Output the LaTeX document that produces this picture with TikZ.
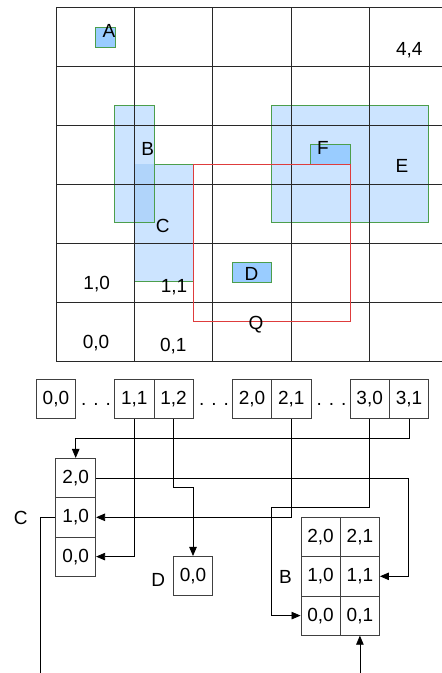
\documentclass[tikz,border=0pt]{standalone}
\usepackage{fontspec}
\setmainfont{Liberation Sans}
\usetikzlibrary{arrows.meta,calc}
\definecolor{lblue}{RGB}{204,228,255}
\definecolor{dblue}{RGB}{153,204,255}
\definecolor{oblue}{RGB}{176,212,250}
\definecolor{gbord}{RGB}{76,158,76}
\definecolor{qred}{RGB}{222,60,60}
\definecolor{gline}{RGB}{40,40,40}
\begin{document}
\begin{tikzpicture}[x=1pt,y=-1pt,
  txt/.style={font=\fontsize{19}{22}\selectfont, inner sep=0pt},
  bx/.style={draw=black!75, line width=0.8pt, minimum width=39.3pt, minimum height=39.3pt, inner sep=0pt, font=\fontsize{19}{22}\selectfont},
  obj/.style={fill=lblue, draw=gbord, line width=0.9pt},
  dobj/.style={fill=dblue, draw=gbord, line width=0.9pt},
  gridl/.style={draw=gline, line width=0.8pt},
  conn/.style={draw=black, line width=0.8pt},
  arr/.style={conn, -{Triangle[length=9pt,width=7.5pt]}}]
\useasboundingbox (0,0) rectangle (442,673);
\fill[white] (0,0) rectangle (442,673);
\begin{scope}
\clip (0,0) rectangle (442,673);
% ---- objects in the grid
\path[obj] (114.3,105.7) rectangle (154.3,222.7); % B
\path[obj] (134.3,164.3) rectangle (193.3,281.7); % C
\fill[oblue] (134.3,164.3) rectangle (154.3,222.7); % overlap B/C
\draw[gbord, line width=0.9pt] (154.3,164.3) -- (154.3,222.7) -- (134.3,222.7);
\path[obj] (271.7,105.7) rectangle (428.3,222.7); % E
\path[dobj] (95,27.3) rectangle (115,47); % A
\path[dobj] (310.7,144.7) rectangle (350,164.3); % F
\path[dobj] (232.3,262.3) rectangle (271.7,282); % D
% ---- grid
\foreach \x in {56,134.3,212.7,291,369.3} \draw[gridl] (\x,7.3) -- (\x,361);
\foreach \y in {7.3,66.3,125.3,184.2,243.1,302.1,361} \draw[gridl] (56,\y) -- (445,\y);
% ---- query rectangle
\draw[qred, line width=0.9pt] (193.3,164.3) rectangle (350,321);
% ---- labels in the grid
\node[txt] (lA) at (109,31) {A};
\node[txt] (lB) at (147.7,149) {B};
\node[txt] (lC) at (162.7,226) {C};
\node[txt] (lD) at (251.5,273.5) {D};
\node[txt] (lE) at (402,166) {E};
\node[txt] (lF) at (323,148) {F};
\node[txt] (lQ) at (256,325) {Q};
\node[txt] (g44) at (409.3,50) {4,4};
\node[txt] (g10) at (96.7,284) {1,0};
\node[txt] (g11) at (174,287) {1,1};
\node[txt] (g00) at (96,343) {0,0};
\node[txt] (g01) at (173.3,346) {0,1};
% ---- top array
\node[bx] (t00) at (55.9,399.2) {0,0};
\node[bx] (t11) at (134.3,399.2) {1,1};
\node[bx] (t12) at (173.6,399.2) {1,2};
\node[bx] (t20) at (252,399.2) {2,0};
\node[bx] (t21) at (291.3,399.2) {2,1};
\node[bx] (t30) at (369.7,399.2) {3,0};
\node[bx] (t31) at (409,399.2) {3,1};
\node[txt, anchor=base] (dots1) at (96,405.5) {.\hspace{7pt}.\hspace{7pt}.};
\node[txt, anchor=base] (dots2) at (214,405.5) {.\hspace{7pt}.\hspace{7pt}.};
\node[txt, anchor=base] (dots3) at (331.5,405.5) {.\hspace{7pt}.\hspace{7pt}.};
% ---- C column
\node[bx, minimum width=40pt] (c20) at (75.7,478) {2,0};
\node[bx, minimum width=40pt] (c10) at (75.7,517.3) {1,0};
\node[bx, minimum width=40pt] (c00) at (75.7,556.6) {0,0};
\node[txt] (nC) at (20.8,517.5) {C};
% ---- D
\node[bx] (d00) at (193,576) {0,0};
\node[txt] (nD) at (158.3,580) {D};
% ---- B grid
\node[bx] (b20) at (320.6,537) {2,0};
\node[bx] (b21) at (359.9,537) {2,1};
\node[bx] (b10) at (320.6,576.3) {1,0};
\node[bx] (b11) at (359.9,576.3) {1,1};
\node[bx] (b00) at (320.6,615.6) {0,0};
\node[bx] (b01) at (359.9,615.6) {0,1};
\node[txt] (nB) at (285.5,576.7) {B};
% ---- connectors
\coordinate (k1) at (271.7,507.3);
\coordinate (k2) at (40.7,673);
\coordinate (k3) at (359.9,673);
\coordinate (k4) at (408.7,576.3);
\draw[arr] (t11.south) |- (c00.east);
\draw[arr] (t12.south) -- ++(0,68.3) -| (d00.north);
\draw[arr] (t21.south) |- (c10.east);
\draw[arr] (t30.south) |- (k1) |- (b00.west);
\draw[arr] (t31.south) -- ++(0,19.3) -| (c20.north);
\draw[arr] (c20.east) -| (k4) -- (b11.east);
\draw[conn] (c10.west) -| (k2);
\draw[arr] (k3) -- (b01.south);
\end{scope}
\end{tikzpicture}
\end{document}
